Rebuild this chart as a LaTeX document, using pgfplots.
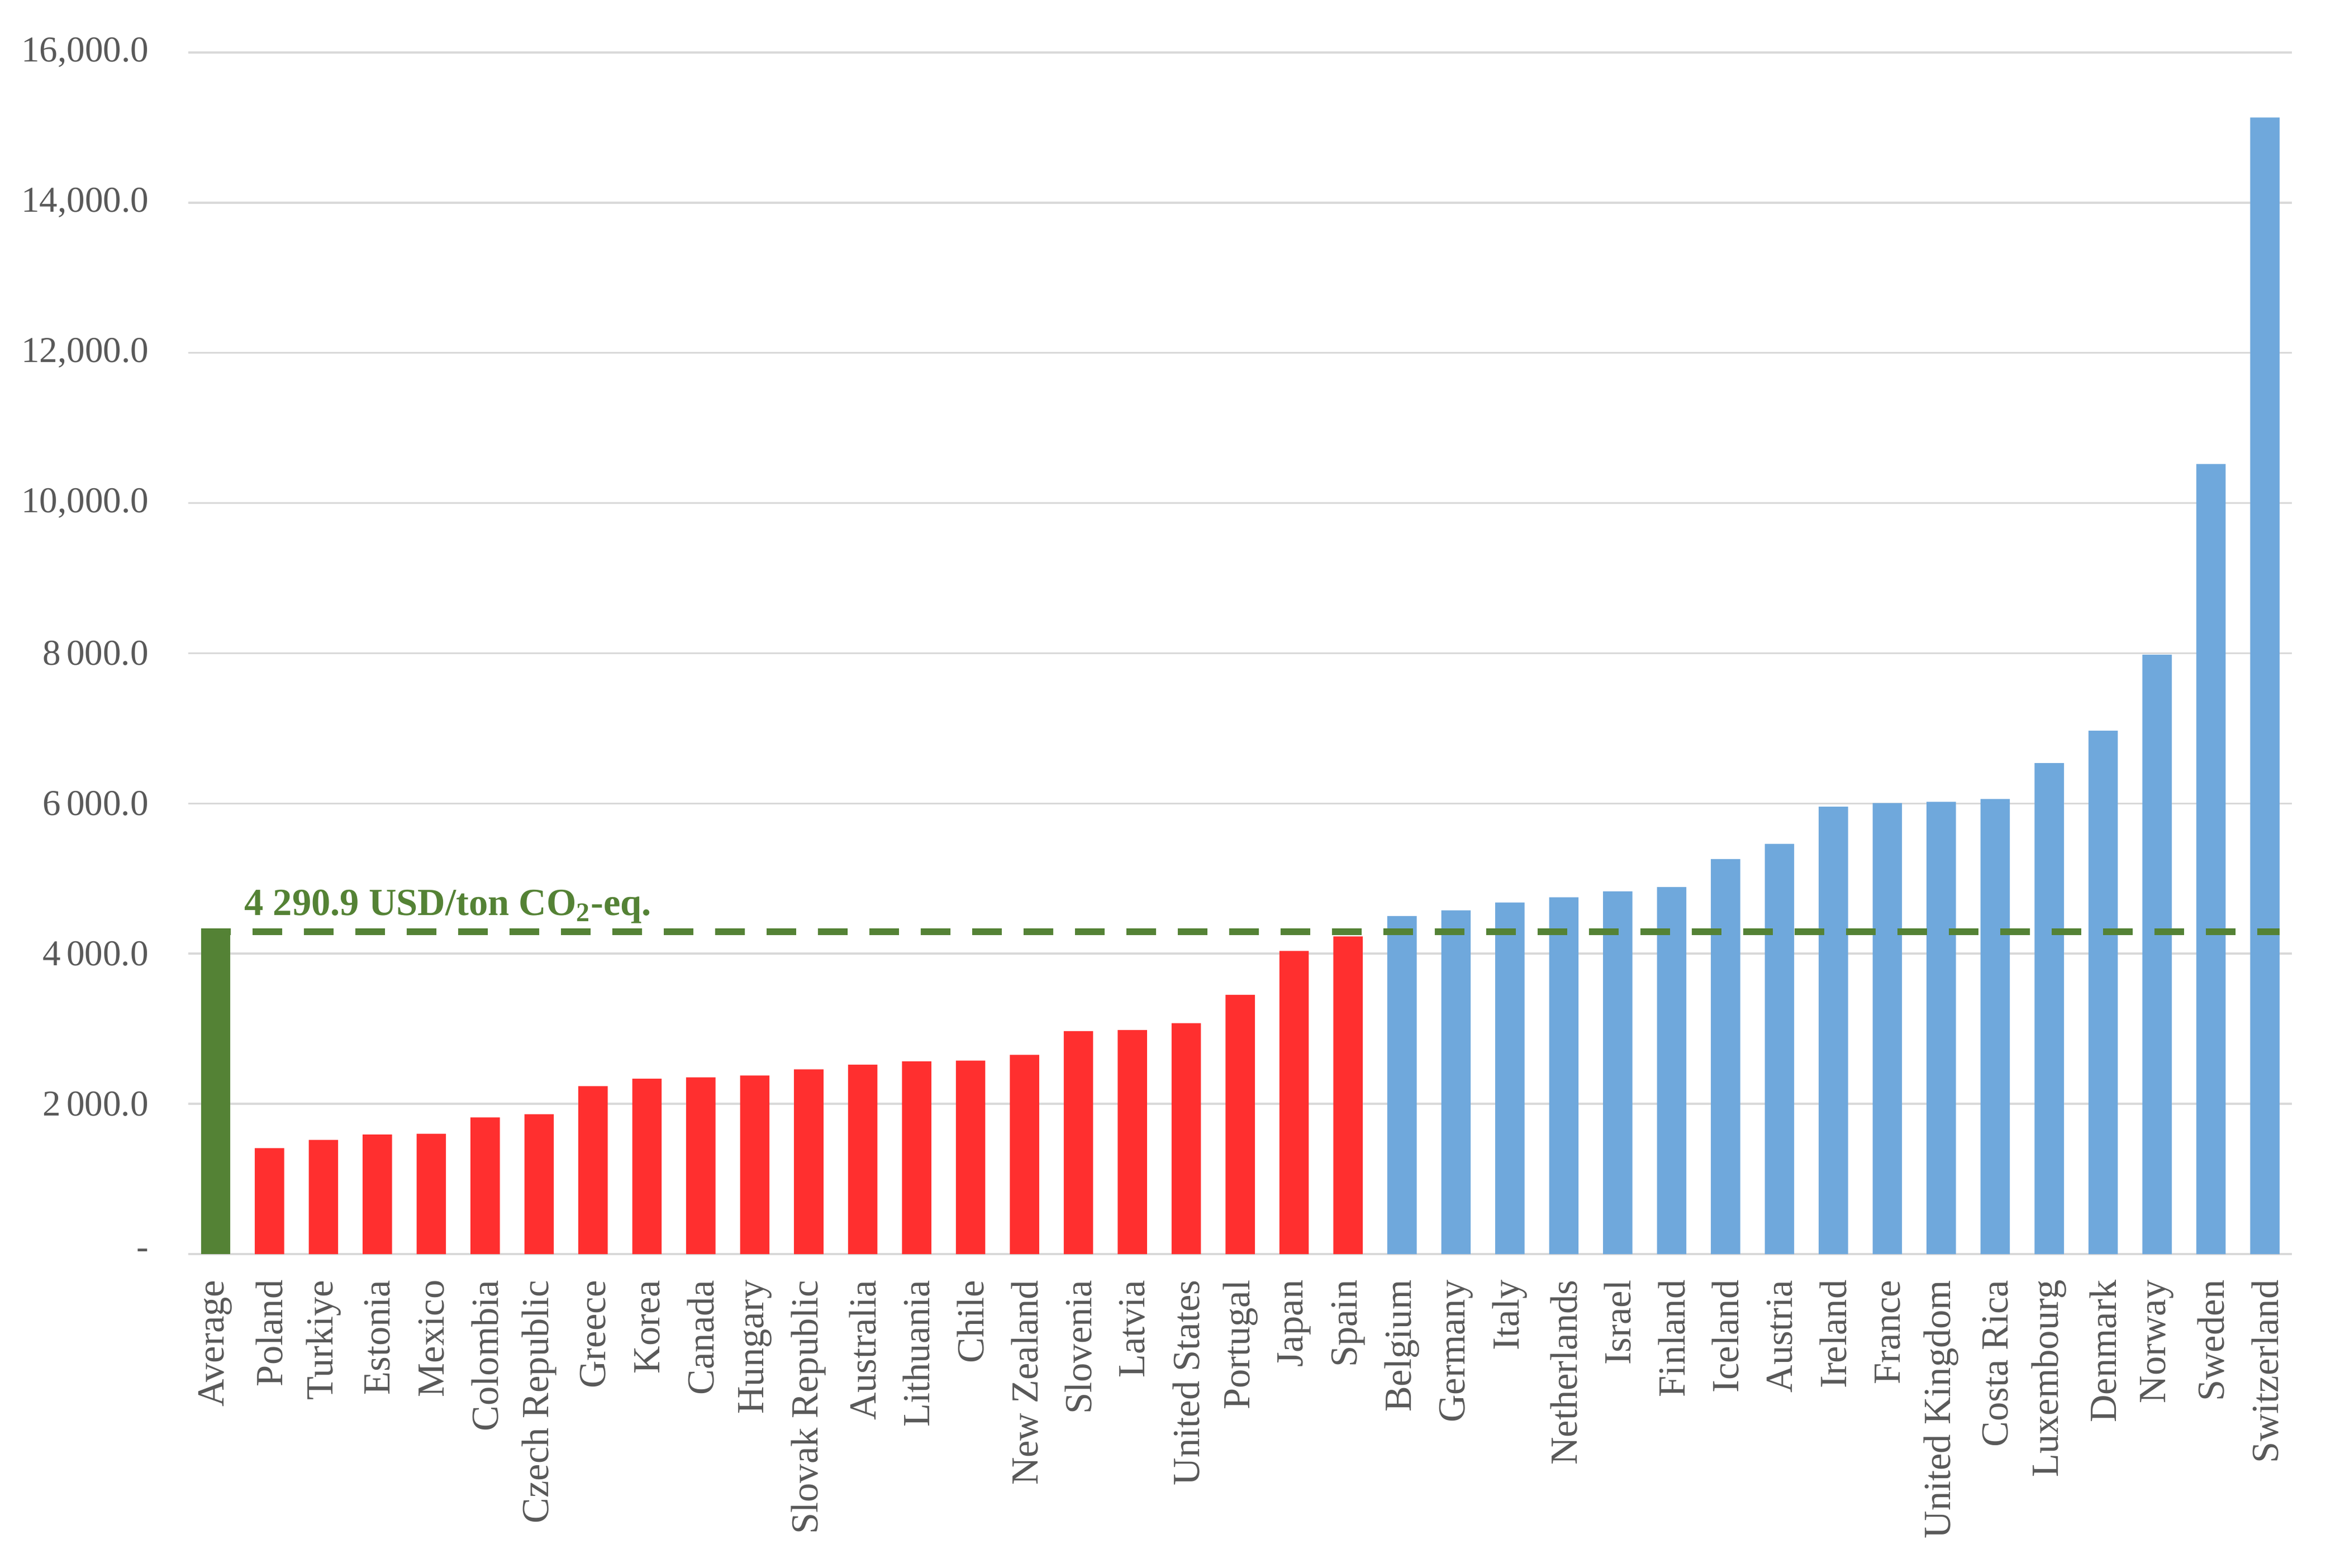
\documentclass[border=0pt]{standalone}
\usepackage{fontspec}
\setmainfont{Liberation Serif}
\usepackage{pgfplots}
\pgfplotsset{compat=1.18}

\definecolor{barred}{RGB}{255,47,47}
\definecolor{barblue}{RGB}{111,168,220}
\definecolor{avggreen}{RGB}{84,130,53}
\definecolor{ticktext}{RGB}{89,89,89}
\definecolor{gridgray}{RGB}{217,217,217}

\begin{document}
\begin{tikzpicture}
% page = reference frame, plot area corner at origin
\useasboundingbox (-33.75mm,-56.1mm) rectangle (382.55mm,224.5mm);
\begin{axis}[
  scale only axis,
  width=376.45mm, height=215.1mm,
  xmin=-0.5, xmax=38.5,
  ymin=0, ymax=16000,
  axis line style={draw=none},
  major tick length=0pt,
  ymajorgrids,
  grid style={gridgray, line width=1pt},
  scaled y ticks=false,
  ytick={0,2000,...,16000},
  yticklabels={-, 2\,000.0, 4\,000.0, 6\,000.0, 8\,000.0, {10,000.0}, {12,000.0}, {14,000.0}, {16,000.0}},
  xtick={0,...,38},
  xticklabels={Average, Poland, Turkiye, Estonia, Mexico, Colombia, Czech Republic,
    Greece, Korea, Canada, Hungary, Slovak Republic, Australia, Lithuania, Chile,
    New Zealand, Slovenia, Latvia, United States, Portugal, Japan, Spain,
    Belgium, Germany, Italy, Netherlands, Israel, Finland, Iceland, Austria,
    Ireland, France, United Kingdom, Costa Rica, Luxembourg, Denmark, Norway,
    Sweden, Switzerland},
  yticklabel style={font=\fontsize{18.5}{22}\selectfont, text=ticktext,
    anchor=east, inner sep=0pt, xshift=-7.1mm},
  xticklabel style={font=\fontsize{19.5}{23}\selectfont, text=ticktext,
    yshift=-4.6mm, rotate=90, anchor=east, inner sep=0pt},
  clip=false,
]
% OECD average
\addplot[ybar, bar width=0.544, bar shift=0pt, fill=avggreen, draw=none]
  coordinates {(0,4290.9)};
% below average
\addplot[ybar, bar width=0.544, bar shift=0pt, fill=barred, draw=none]
  coordinates {
  (1,1410) (2,1521) (3,1590) (4,1602) (5,1820) (6,1863) (7,2236)
  (8,2335) (9,2354) (10,2378) (11,2459) (12,2521) (13,2565) (14,2577)
  (15,2652) (16,2968) (17,2981) (18,3074) (19,3453) (20,4037) (21,4229)
  };
% above average
\addplot[ybar, bar width=0.544, bar shift=0pt, fill=barblue, draw=none]
  coordinates {
  (22,4502) (23,4577) (24,4682) (25,4751) (26,4831) (27,4887) (28,5260)
  (29,5462) (30,5958) (31,6006) (32,6023) (33,6059) (34,6538) (35,6968)
  (36,7980) (37,10520) (38,15135)
  };
% average line
\addplot[avggreen, line width=1.27mm, dash pattern=on 5.3mm off 3.9mm]
  coordinates {(-0.272,4290.9) (38.272,4290.9)};
\node[anchor=base west, inner sep=0pt, text=avggreen,
  font=\bfseries\fontsize{19.5}{22}\selectfont]
  at (axis cs:0.53,4514) {4 290.9 USD/ton CO\textsubscript{2}-eq.};
\end{axis}
\end{tikzpicture}
\end{document}
